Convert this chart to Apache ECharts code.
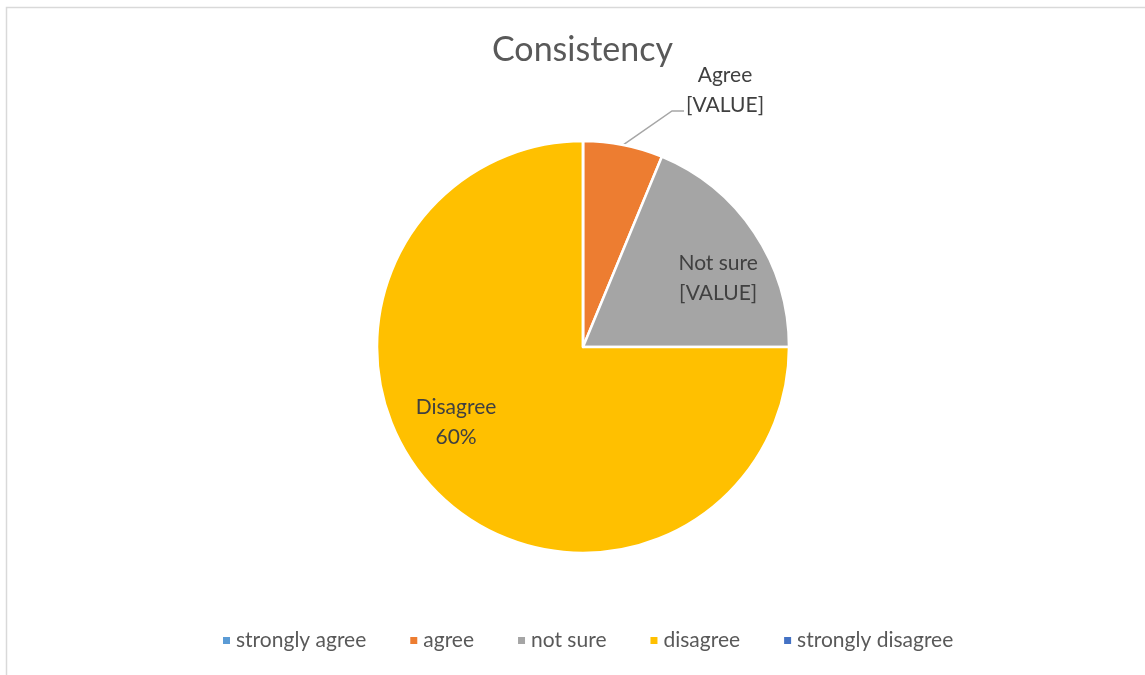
<!DOCTYPE html>
<html><head><meta charset="utf-8">
<script src="https://cdn.jsdelivr.net/npm/echarts@6/dist/echarts.min.js"></script>
<style>html,body{margin:0;padding:0;background:#fff}#c{width:1145px;height:675px}</style>
</head><body><div id="c"></div>
<script>
var categories = ['strongly agree', 'agree', 'not sure', 'disagree', 'strongly disagree'];
var values = [0, 3, 9, 36, 0];
var labelTexts = ['', 'Agree\n[VALUE]', 'Not sure\n[VALUE]', 'Disagree\n60%', ''];
var colors = ['#5B9BD5', '#ED7D31', '#A5A5A5', '#FFC000', '#4472C4'];
var FONT = 'Lato, "Open Sans", sans-serif';

var chart = echarts.init(document.getElementById('c'));
var data = categories.map(function (c, i) {
  var d = { name: c, value: values[i], itemStyle: { color: colors[i] } };
  if (values[i] === 0) { d.label = { show: false }; d.labelLine = { show: false }; }
  else if (i === 1) { d.label = { position: 'outside' }; d.labelLine = { show: true }; }
  else { d.label = { position: 'inside' }; d.labelLine = { show: false }; }
  return d;
});
chart.setOption({
  animation: false,
  title: { text: 'Consistency', left: 487, top: 28,
    textStyle: { fontFamily: FONT, fontSize: 34, fontWeight: 'normal', color: '#595959' } },
  legend: { bottom: 19, left: 216, itemWidth: 9, itemHeight: 9, itemGap: 42, icon: 'rect',
    textStyle: { fontFamily: FONT, fontSize: 21, color: '#595959' }, data: categories },
  graphic: [{ type: 'rect', shape: { x: 6.5, y: 7.5, width: 1160, height: 700 },
    style: { fill: 'none', stroke: '#D9D9D9', lineWidth: 1.5 }, silent: true }],
  series: [{
    type: 'pie', center: [583, 347], radius: 206, startAngle: 90, clockwise: true,
    avoidLabelOverlap: false, minAngle: 0,
    itemStyle: { borderColor: '#fff', borderWidth: 2.5 },
    label: { fontFamily: FONT, fontSize: 21, color: '#404040', lineHeight: 30, align: 'center',
      formatter: function (p) { return labelTexts[p.dataIndex]; } },
    labelLine: { lineStyle: { color: '#A6A6A6', width: 1.5 }, length: 30, length2: 12 },
    labelLayout: function (p) {
      if (p.dataIndex === 2) return { dx: 47, dy: -10 };
      if (p.dataIndex === 3) return { dx: -52, dy: 0 };
      if (p.dataIndex === 1) {
        var p0 = p.labelLinePoints ? p.labelLinePoints[0] : [623, 145];
        return { x: 725, y: 90, align: 'center', verticalAlign: 'middle',
          labelLinePoints: [p0, [672, 111], [684, 111]] };
      }
      return {};
    },
    data: data
  }]
});
</script></body></html>
